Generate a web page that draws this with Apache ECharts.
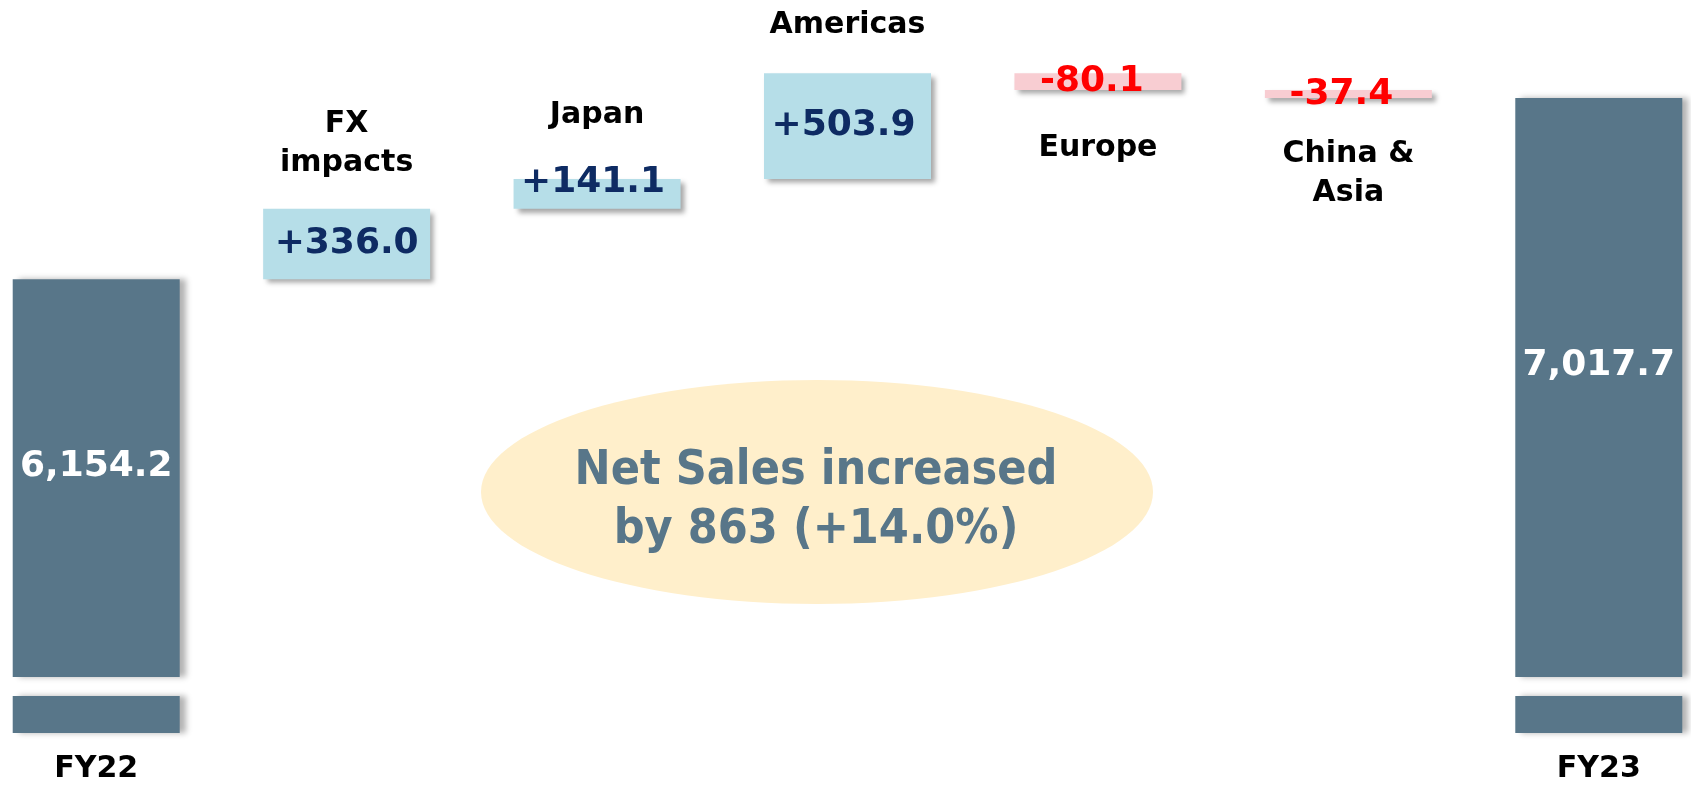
<!DOCTYPE html>
<html>
<head>
<meta charset="utf-8">
<title>Net Sales FY22 - FY23</title>
<script src="https://cdn.jsdelivr.net/npm/echarts@6/dist/echarts.min.js"></script>
<style>
  html, body { margin: 0; padding: 0; background: #fff; }
  #chart { width: 1691px; height: 786px; }
</style>
</head>
<body>
<div id="chart"></div>
<script>
// data
const categories = ['FY22', 'FX\nimpacts', 'Japan', 'Americas', 'Europe', 'China &\nAsia', 'FY23']
const startTotal = 6154.2
const endTotal = 7017.7
const changes = [336.0, 141.1, 503.9, -80.1, -37.4]
const summaryText = 'Net Sales increased\nby 863 (+14.0%)'

// styles
const FONT = 'DejaVu Sans'
const totalColor = '#587689'
const upColor = '#B6DEE8'
const downColor = '#F8CDD2'
const upText = '#0E2B63'
const downText = '#FF0000'
// label tweaks (per change item)
const valueOffsets = [[0, 0], [-4, -11], [-4, 0], [-6, 0], [-7, 1]]
const nameDistance = [25, 44, 28, 38, 36]
const totalOffsets = [[0, -11], [0, -22]]

// build waterfall series from the arrays
const baseData = ['-']
const deltaData = ['-']
const nameData = ['-']
let running = startTotal
changes.forEach((c, i) => {
  const next = running + c
  baseData.push(Math.min(running, next))
  deltaData.push({
    value: Math.abs(c),
    itemStyle: { color: c >= 0 ? upColor : downColor },
    label: { color: c >= 0 ? upText : downText, offset: valueOffsets[i] }
  })
  nameData.push({
    value: next,
    label: { position: c >= 0 ? 'top' : 'bottom', distance: nameDistance[i] }
  })
  running = next
})
baseData.push('-')
deltaData.push('-')
nameData.push('-')

const last = categories.length - 1
const totalData = categories.map((c, i) => {
  if (i === 0) return { value: startTotal, label: { offset: totalOffsets[0] } }
  if (i === last) return { value: endTotal, label: { offset: totalOffsets[1] } }
  return '-'
})

const fmtTotal = v => v.toLocaleString('en-US', { minimumFractionDigits: 1, maximumFractionDigits: 1 })
const fmtChange = c => (c > 0 ? '+' : '') + c.toFixed(1)

const chart = echarts.init(document.getElementById('chart'))

chart.setOption({
  animation: false,
  textStyle: { fontFamily: FONT },
  grid: [
    { left: -29, right: -33, top: 47, height: 630, outerBoundsMode: 'none', containLabel: false },
    { left: -29, right: -33, top: 696, height: 37, outerBoundsMode: 'none', containLabel: false }
  ],
  xAxis: [
    { gridIndex: 0, type: 'category', data: categories, show: false },
    {
      gridIndex: 1,
      type: 'category',
      data: categories,
      axisLine: { show: false },
      axisTick: { show: false },
      axisLabel: {
        interval: 0,
        margin: 21,
        fontSize: 30,
        fontWeight: 'bold',
        color: '#000',
        fontFamily: FONT,
        formatter: (v, idx) => (idx === 0 || idx === last) ? v : ''
      }
    }
  ],
  yAxis: [
    { gridIndex: 0, type: 'value', min: 4260, max: 7260, show: false, splitLine: { show: false } },
    { gridIndex: 1, type: 'value', min: 0, max: 100, show: false, splitLine: { show: false } }
  ],
  graphic: [
    {
      type: 'ellipse',
      shape: { cx: 817, cy: 492, rx: 336, ry: 112 },
      style: { fill: '#FFEFCB' },
      z: 0
    },
    {
      type: 'text',
      x: 816,
      y: 501,
      style: {
        text: summaryText,
        font: 'bold 48px "DejaVu Sans Condensed", "DejaVu Sans"',
        fill: totalColor,
        align: 'center',
        verticalAlign: 'middle',
        lineHeight: 59
      },
      z: 1
    }
  ],
  series: [
    {
      name: 'base',
      type: 'bar',
      stack: 'wf',
      xAxisIndex: 0,
      yAxisIndex: 0,
      barWidth: 167,
      barGap: '-100%',
      silent: true,
      itemStyle: { color: 'transparent' },
      data: baseData
    },
    {
      name: 'change',
      type: 'bar',
      stack: 'wf',
      xAxisIndex: 0,
      yAxisIndex: 0,
      barWidth: 167,
      barGap: '-100%',
      itemStyle: {
        shadowBlur: 5,
        shadowOffsetX: 4,
        shadowOffsetY: 4,
        shadowColor: 'rgba(0,0,0,0.35)'
      },
      label: {
        show: true,
        position: 'inside',
        fontSize: 36,
        fontWeight: 'bold',
        fontFamily: FONT,
        formatter: p => fmtChange(changes[p.dataIndex - 1])
      },
      data: deltaData
    },
    {
      name: 'total',
      type: 'bar',
      xAxisIndex: 0,
      yAxisIndex: 0,
      barWidth: 167,
      barGap: '-100%',
      itemStyle: {
        color: totalColor,
        shadowBlur: 6,
        shadowOffsetX: 6,
        shadowColor: 'rgba(0,0,0,0.3)'
      },
      label: {
        show: true,
        position: 'inside',
        color: '#fff',
        fontSize: 36,
        fontWeight: 'bold',
        fontFamily: FONT,
        formatter: p => fmtTotal(p.value)
      },
      data: totalData
    },
    {
      name: 'total-stub',
      type: 'bar',
      xAxisIndex: 1,
      yAxisIndex: 1,
      barWidth: 167,
      itemStyle: {
        color: totalColor,
        shadowBlur: 6,
        shadowOffsetX: 6,
        shadowColor: 'rgba(0,0,0,0.3)'
      },
      data: [startTotal, '-', '-', '-', '-', '-', endTotal]
    },
    {
      name: 'names',
      type: 'scatter',
      xAxisIndex: 0,
      yAxisIndex: 0,
      symbolSize: 1,
      itemStyle: { color: 'rgba(255,255,255,0)', opacity: 1 },
      silent: true,
      label: {
        show: true,
        opacity: 1,
        align: 'center',
        formatter: p => categories[p.dataIndex].split('\n').map(s => '{n|' + s + '}').join('\n'),
        rich: {
          n: {
            fontSize: 30,
            fontWeight: 'bold',
            color: '#000000',
            lineHeight: 39,
            fontFamily: FONT
          }
        }
      },
      data: nameData
    }
  ]
})
</script>
</body>
</html>
